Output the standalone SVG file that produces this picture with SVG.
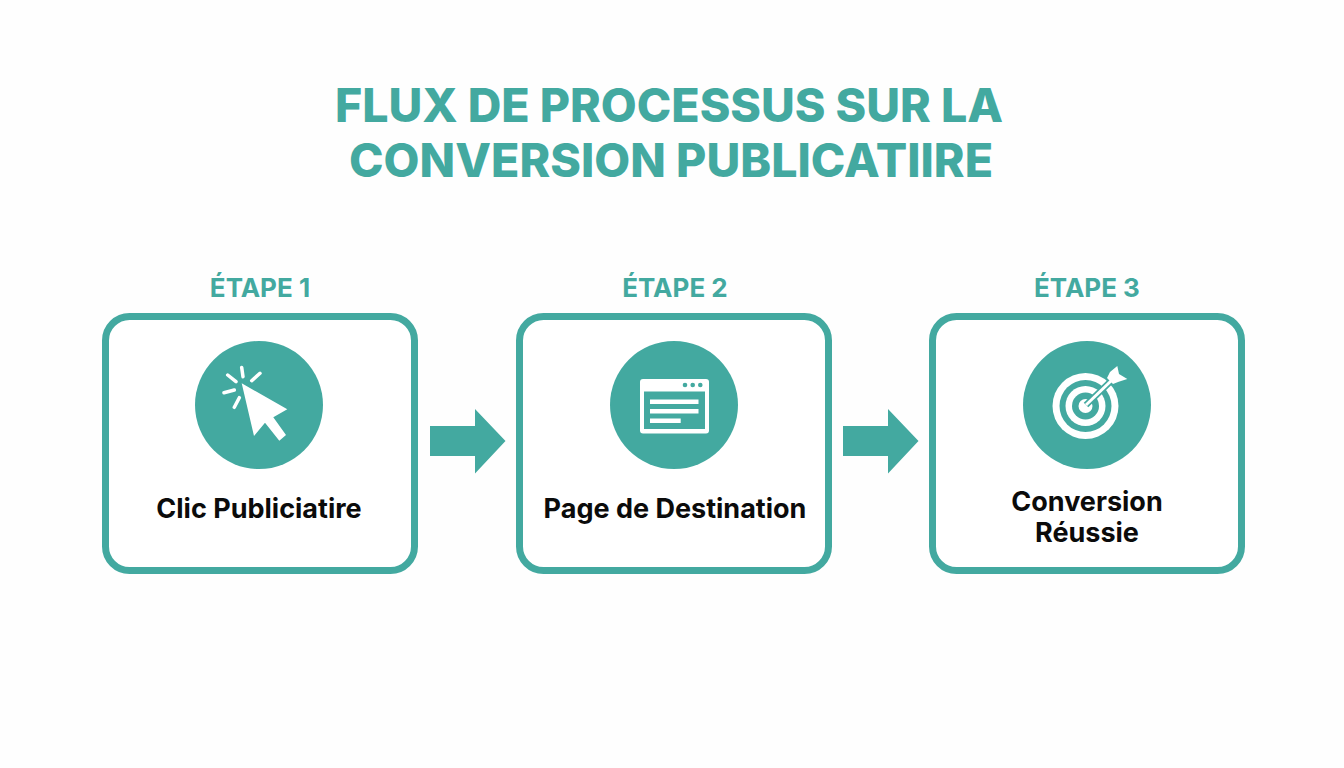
<svg xmlns="http://www.w3.org/2000/svg" width="1344" height="768" viewBox="0 0 1344 768">
<style>
.title{font:800 46.5px Inter,"Liberation Sans",sans-serif;fill:#43a9a0;text-anchor:middle}
.step{font:700 26px Inter,"Liberation Sans",sans-serif;fill:#43a9a0;text-anchor:middle}
.label{font:700 27px Inter,"Liberation Sans",sans-serif;fill:#0b0b0b;text-anchor:middle}
.box{fill:#fff;stroke:#43a9a0;stroke-width:7}
.disc{fill:#43a9a0}
.arrow{fill:#43a9a0}
.ray{stroke:#fff;stroke-width:3.500;stroke-linecap:round;fill:none}
.w{fill:#fff}
.t{fill:#43a9a0}
</style>
<rect width="1344" height="768" fill="#fefefe"/>
<g id="title">
<text class="title" x="669" y="122" textLength="668">FLUX DE PROCESSUS SUR LA</text>
<text class="title" x="671" y="177" textLength="644">CONVERSION PUBLICATIIRE</text>
</g>
<g id="connectors">
<path class="arrow" d="M430 426H475V409L505.500 441L475 473.500V456H430Z"/>
<path class="arrow" d="M843 426H888V409L918.500 441L888 473.500V456H843Z"/>
</g>
<g id="step1">
<text class="step" x="260" y="297">ÉTAPE 1</text>
<rect class="box" x="105.500" y="316.500" width="309" height="254" rx="24"/>
<circle class="disc" cx="259" cy="405" r="64"/>
<path class="w" d="M241.700 383.300L287.300 409.300L273.300 417.300L286 435L279.300 440.700L265 422.700L254 436Z"/>
<path class="ray" d="M241.700 367.500L243 376.700M227.700 375L236 381.700M260 373.300L251.700 380.700M224 392.700L234.300 390M239.300 397.700L234.300 407.300"/>
<text class="label" x="259" y="518">Clic Publiciatire</text>
</g>
<g id="step2">
<text class="step" x="675" y="297">ÉTAPE 2</text>
<rect class="box" x="519.500" y="316.500" width="309" height="254" rx="24"/>
<circle class="disc" cx="674" cy="405" r="64"/>
<rect class="w" x="640" y="379" width="69" height="54.500" rx="3"/>
<rect class="t" x="644" y="391.500" width="61" height="37.500"/>
<circle class="t" cx="685" cy="385" r="2.300"/><circle class="t" cx="692.700" cy="385" r="2.300"/><circle class="t" cx="700.300" cy="385" r="2.300"/>
<rect class="w" x="650" y="399.500" width="48.500" height="4.500"/>
<rect class="w" x="650" y="409" width="48.500" height="4.500"/>
<rect class="w" x="650" y="418.500" width="30.700" height="4.500"/>
<text class="label" x="675" y="518">Page de Destination</text>
</g>
<g id="step3">
<text class="step" x="1087" y="297">ÉTAPE 3</text>
<rect class="box" x="932.500" y="316.500" width="309" height="254" rx="24"/>
<circle class="disc" cx="1087" cy="405" r="64"/>
<circle class="w" cx="1085.500" cy="406" r="33"/>
<circle class="t" cx="1085.500" cy="406" r="26"/>
<circle class="w" cx="1085.500" cy="406" r="20"/>
<circle class="t" cx="1085.500" cy="406" r="13.500"/>
<circle class="w" cx="1085.500" cy="406" r="7"/>
<path d="M1086 405L1112 380" stroke="#43a9a0" stroke-width="6.500" fill="none"/>
<path d="M1086 405L1112 380" stroke="#fff" stroke-width="3" fill="none"/>
<path class="w" d="M1117.300 366L1119 374L1127.300 379L1118.700 381.700L1113 384L1107 378L1110 372Z"/>
<text class="label" x="1087" y="511">Conversion</text>
<text class="label" x="1087" y="542">Réussie</text>
</g>
</svg>
